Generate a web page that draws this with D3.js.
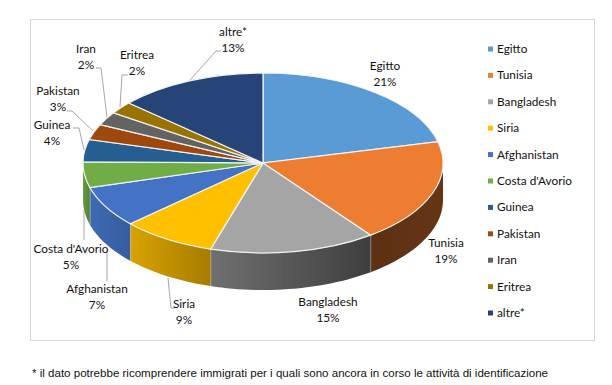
<!DOCTYPE html>
<html>
<head>
<meta charset="utf-8">
<script src="https://cdn.jsdelivr.net/npm/d3@7"></script>
<style>
  body { margin: 0; background: #fff; }
  svg { display: block; }
  text { font-family: Lato, sans-serif; font-size: 11.8px; fill: #111; }
  .note { font-family: "Liberation Sans", sans-serif; font-size: 11.55px; fill: #111; }
</style>
</head>
<body>
<svg width="612" height="385"></svg>
<script>
// Chart data
const categories = ["Egitto", "Tunisia", "Bangladesh", "Siria", "Afghanistan", "Costa d'Avorio", "Guinea", "Pakistan", "Iran", "Eritrea", "altre*"];
const shares = [21.2, 18.6, 14.9, 8.5, 7.4, 4.6, 4.0, 2.8, 2.4, 2.2, 13.4];
const percentLabels = ["21%", "19%", "15%", "9%", "7%", "5%", "4%", "3%", "2%", "2%", "13%"];
const colors = ["#5b9bd5", "#ed7d31", "#a5a5a5", "#ffc000", "#4472c4", "#70ad47", "#255e91", "#9e480e", "#636363", "#997300", "#264478"];
const footnote = "* il dato potrebbe ricomprendere immigrati per i quali sono ancora in corso le attività di identificazione";

// Label centres and leader lines, same order as categories
const labelPos = [[385, 66], [446, 243], [328, 302], [184, 304], [97, 289], [71, 249], [52, 125], [58, 91], [86, 49], [137, 55], [233, 32]];
const leaders = [
    null, null, null,
    [[168, 278], [171, 308], [175, 308]],
    [[107, 250], [107, 281]],
    [[84, 210], [84, 240]],
    [[84, 150], [79, 128], [73, 128]],
    [[93, 131], [72, 111], [67, 111]],
    [[107, 117], [101, 68], [96, 68]],
    [[120, 107], [122, 75], [128, 75]],
    [[190, 80], [216, 51], [221, 51]]
];

// Pie geometry: a circle squashed vertically, with a wall below it
const cx = 263, cy = 163, rx = 180, ry = 90, depth = 37;

const svg = d3.select("svg");

// Chart frame
svg.append("rect")
    .attr("x", 30.5).attr("y", 19.5)
    .attr("width", 564).attr("height", 321)
    .attr("fill", "#fff")
    .attr("stroke", "#d9d9d9");

const pie = d3.pie().sort(null).value(d => d);
const arcs = pie(shares);

// Points on the rim for a pie angle
const rimX = a => cx + rx * Math.sin(a);
const rimY = a => cy - ry * Math.cos(a);

const defs = svg.append("defs");

// Wall gradient: lighter on the left, darker on the right
function wallGradient(i, left, right) {
    const g = defs.append("linearGradient").attr("id", "wall" + i);
    g.append("stop").attr("offset", 0).attr("stop-color", left);
    g.append("stop").attr("offset", 1).attr("stop-color", right);
}

const wallColors = [
    null,
    ["#5c3012", "#653616"],
    ["#707070", "#3e3e3e"],
    ["#d8a300", "#a67c00"],
    ["#3f6ab4", "#365c9e"],
    ["#6a9c43", "#558034"]
];
wallColors.forEach((c, i) => { if (c) wallGradient(i, c[0], c[1]); });

// Walls: only the front half of the rim, from Tunisia to Costa d'Avorio
const frontStart = Math.PI / 2, frontEnd = Math.PI * 1.5;
const walls = svg.append("g");
arcs.forEach((d, i) => {
    const start = Math.max(d.startAngle, frontStart);
    const end = Math.min(d.endAngle, frontEnd);
    if (end <= start) return;
    const rim = d3.range(0, 31).map(k => start + (end - start) * k / 30);
    const top = rim.map(a => [rimX(a), rimY(a)]);
    const bottom = rim.map(a => [rimX(a), rimY(a) + depth]).reverse();
    walls.append("path")
        .attr("d", d3.line()(top.concat(bottom)) + "Z")
        .attr("fill", wallColors[i] ? `url(#wall${i})` : colors[i]);
    // Light seam where two walls meet
    if (d.endAngle < frontEnd) {
        walls.append("line")
            .attr("x1", rimX(d.endAngle)).attr("y1", rimY(d.endAngle))
            .attr("x2", rimX(d.endAngle)).attr("y2", rimY(d.endAngle) + depth)
            .attr("stroke", "#d9d9d9")
            .attr("stroke-width", 1);
    }
});

// Top face
const arc = d3.arc().innerRadius(0).outerRadius(rx);
svg.append("g")
    .attr("transform", `translate(${cx},${cy}) scale(1,${ry / rx})`)
    .selectAll("path")
    .data(arcs)
    .enter()
    .append("path")
    .attr("d", arc)
    .attr("fill", (d, i) => colors[i])
    .attr("stroke", "#f2f2f2")
    .attr("stroke-width", 1.2)
    .attr("vector-effect", "non-scaling-stroke");

// Leader lines
svg.append("g")
    .selectAll("path")
    .data(leaders.filter(d => d))
    .enter()
    .append("path")
    .attr("d", d3.line())
    .attr("fill", "none")
    .attr("stroke", "#a6a6a6")
    .attr("stroke-width", 1);

// Data labels, name above value
const labels = svg.append("g")
    .selectAll("text")
    .data(categories)
    .enter()
    .append("text")
    .attr("text-anchor", "middle")
    .attr("transform", (d, i) => `translate(${labelPos[i][0]},${labelPos[i][1]})`);

labels.append("tspan").attr("x", 0).attr("y", 4).text(d => d);
labels.append("tspan").attr("x", 0).attr("y", 20).text((d, i) => percentLabels[i]);

// Legend
const legendY = d3.scalePoint().domain(categories).range([49, 313]);
const legend = svg.append("g")
    .selectAll("g")
    .data(categories)
    .enter()
    .append("g")
    .attr("transform", d => `translate(488,${legendY(d)})`);

legend.append("rect")
    .attr("y", -2.5)
    .attr("width", 5)
    .attr("height", 5)
    .attr("fill", (d, i) => colors[i]);

legend.append("text")
    .attr("x", 9)
    .attr("y", 4)
    .text(d => d);

// Footnote under the frame
svg.append("text")
    .attr("class", "note")
    .attr("x", 32)
    .attr("y", 377)
    .text(footnote);
</script>
</body>
</html>
